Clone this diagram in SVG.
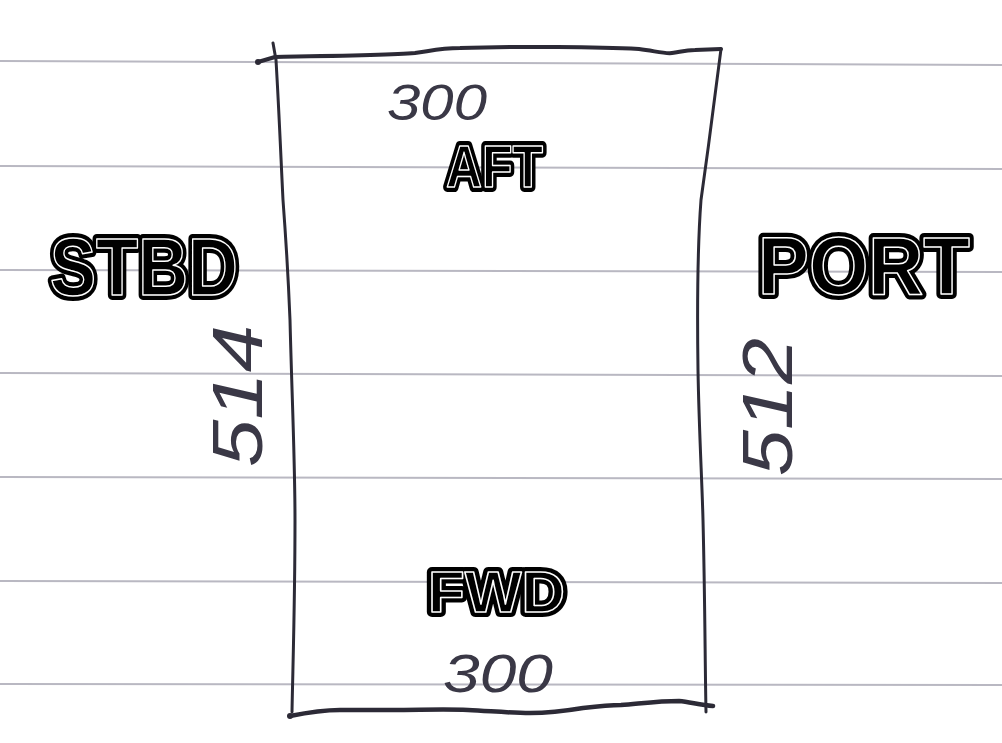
<svg xmlns="http://www.w3.org/2000/svg" width="1002" height="743" viewBox="0 0 1002 743">
  <style>
    .rule { stroke: #b9b8c2; stroke-width: 2; fill: none; }
    .pen { stroke: #2c2a36; fill: none; stroke-linecap: round; stroke-linejoin: round; }
    .lblBack { font-family: "Liberation Sans", Arial, sans-serif; font-weight: bold; fill: #000; stroke: #000; stroke-width: 10; stroke-linejoin: round; }
    .lblFront { font-family: "Liberation Sans", Arial, sans-serif; font-weight: bold; fill: #000; stroke: #fff; stroke-width: 1.5; stroke-linejoin: round; }
    .hand { font-family: "Liberation Sans", Arial, sans-serif; font-style: italic; font-weight: normal; fill: #3a3846; }
  </style>
  <rect width="1002" height="743" fill="#ffffff"/>
  <g id="paper-rules">
    <line class="rule" x1="0" y1="61" x2="1002" y2="65"/>
    <line class="rule" x1="0" y1="166" x2="1002" y2="169"/>
    <line class="rule" x1="0" y1="270" x2="1002" y2="272"/>
    <line class="rule" x1="0" y1="373" x2="1002" y2="376"/>
    <line class="rule" x1="0" y1="477" x2="1002" y2="479"/>
    <line class="rule" x1="0" y1="581" x2="1002" y2="583"/>
    <line class="rule" x1="0" y1="684" x2="1002" y2="685"/>
  </g>
  <g id="outline">
    <path class="pen" stroke-width="4" d="M258,62 L275,57 C330,56 390,55 415,53 C430,51 440,48 460,48 C520,46 600,47 639,49 C655,51 665,54 672,53 C680,52 685,50 695,50 L721,49"/>
    <path class="pen" stroke-width="3" d="M273,43 L276,60 C279,110 281,160 283,200 C286,240 288,270 290,320 C292,400 295,460 295,520 C295,600 293,660 292,712"/>
    <path class="pen" stroke-width="3" d="M721,49 C716,90 708,150 701,200 C698,240 697,300 698,370 C699,430 702,480 703,520 C705,600 705,660 706,712"/>
    <path class="pen" stroke-width="4.5" d="M290,716 C310,712 325,710 340,710 C360,710 375,710 392,710 C420,710 445,709 468,710 C490,711 510,713 530,713 C550,713 565,711 583,708 C600,706 610,705 621,705 C645,703 660,701 679,701 C690,702 700,705 713,706"/>
    <circle cx="258" cy="62" r="3" fill="#2c2a36"/>
    <circle cx="290" cy="716" r="3" fill="#2c2a36"/>
  </g>
  <g id="label-aft">
    <text class="lblBack" x="446" y="187" font-size="60" textLength="97" lengthAdjust="spacingAndGlyphs">AFT</text>
    <text class="lblFront" x="446" y="187" font-size="60" textLength="97" lengthAdjust="spacingAndGlyphs">AFT</text>
  </g>
  <g id="label-fwd">
    <text class="lblBack" x="428" y="612" font-size="58" textLength="137" lengthAdjust="spacingAndGlyphs">FWD</text>
    <text class="lblFront" x="428" y="612" font-size="58" textLength="137" lengthAdjust="spacingAndGlyphs">FWD</text>
  </g>
  <g id="label-stbd">
    <text class="lblBack" x="50" y="295" font-size="81" textLength="188" lengthAdjust="spacingAndGlyphs">STBD</text>
    <text class="lblFront" x="50" y="295" font-size="81" textLength="188" lengthAdjust="spacingAndGlyphs">STBD</text>
  </g>
  <g id="label-port">
    <text class="lblBack" x="758" y="294" font-size="81" textLength="212" lengthAdjust="spacingAndGlyphs">PORT</text>
    <text class="lblFront" x="758" y="294" font-size="81" textLength="212" lengthAdjust="spacingAndGlyphs">PORT</text>
  </g>
  <g id="dim-top">
    <text class="hand" x="387" y="120" font-size="50" textLength="100" lengthAdjust="spacingAndGlyphs">300</text>
  </g>
  <g id="dim-bottom">
    <text class="hand" x="443" y="692" font-size="54" textLength="110" lengthAdjust="spacingAndGlyphs">300</text>
  </g>
  <g id="dim-left">
    <text class="hand" transform="translate(262,467) rotate(-90)" x="0" y="0" font-size="70" textLength="142" lengthAdjust="spacingAndGlyphs">514</text>
  </g>
  <g id="dim-right">
    <text class="hand" transform="translate(792,476) rotate(-90)" x="0" y="0" font-size="70" textLength="138" lengthAdjust="spacingAndGlyphs">512</text>
  </g>
</svg>
